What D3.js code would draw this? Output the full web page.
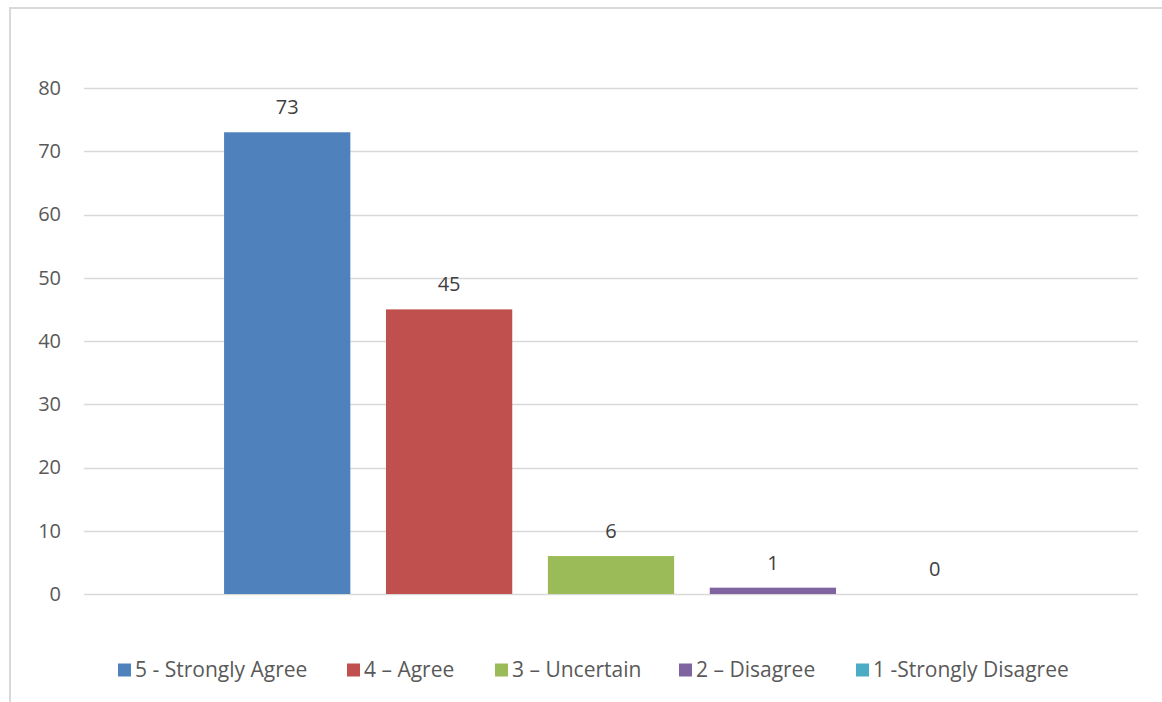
<!DOCTYPE html>
<html>
<head>
<meta charset="utf-8">
<script src="https://cdn.jsdelivr.net/npm/d3@7"></script>
<style>
  html, body { margin: 0; padding: 0; background: #fff; }
  svg { display: block; font-family: "Open Sans", "DejaVu Sans", sans-serif; }
</style>
</head>
<body>
<svg id="chart" width="1162" height="702"></svg>
<script>
const categories = ["Responses"];
const seriesNames = ["5 - Strongly Agree", "4 \u2013 Agree", "3 \u2013 Uncertain", "2 \u2013 Disagree", "1 -Strongly Disagree"];
const seriesValues = [73, 45, 6, 1, 0];
const seriesColors = ["#4f81bd", "#c0504d", "#9bbb59", "#8064a2", "#4bacc6"];
const yTicks = [0, 10, 20, 30, 40, 50, 60, 70, 80];

const svg = d3.select("#chart");
const W = 1162, H = 702;

// chart border (extends past right and bottom edges like the source)
svg.append("rect")
  .attr("x", 10).attr("y", 8)
  .attr("width", W + 10).attr("height", H + 10)
  .attr("fill", "#fff").attr("stroke", "#d9d9d9").attr("stroke-width", 2);

const plot = { left: 84, right: 1138, top: 88, bottom: 594 };

const y = d3.scaleLinear().domain([0, 80]).range([plot.bottom, plot.top]);
const x0 = d3.scaleBand().domain(categories).range([plot.left, plot.right]).paddingInner(0).paddingOuter(0.181);
const x1 = d3.scaleBand().domain(seriesNames).range([0, x0.bandwidth()]).paddingInner(0.22).paddingOuter(0);

// gridlines
svg.append("g")
  .selectAll("line").data(yTicks).join("line")
  .attr("x1", plot.left).attr("x2", plot.right)
  .attr("y1", d => Math.round(y(d)) + 0.5).attr("y2", d => Math.round(y(d)) + 0.5)
  .attr("stroke", "#d9d9d9").attr("stroke-width", 1.3);

// y axis labels
const yAxis = d3.axisLeft(y).tickValues(yTicks).tickSize(0).tickPadding(0);
const gy = svg.append("g").attr("transform", `translate(${plot.left - 23},0)`).call(yAxis);
gy.select(".domain").remove();
gy.selectAll("text").attr("font-size", 20).attr("fill", "#595959")
  .attr("font-family", "'Open Sans', 'DejaVu Sans', sans-serif");

// bars
const data = seriesNames.map((s, i) => ({ cat: categories[0], name: s, value: seriesValues[i], color: seriesColors[i] }));
const g = svg.append("g");
g.selectAll("rect").data(data).join("rect")
  .attr("x", d => x0(d.cat) + x1(d.name))
  .attr("y", d => y(d.value))
  .attr("width", x1.bandwidth())
  .attr("height", d => y(0) - y(d.value))
  .attr("fill", d => d.color);

// data labels
g.selectAll("text").data(data).join("text")
  .attr("x", d => x0(d.cat) + x1(d.name) + x1.bandwidth() / 2)
  .attr("y", d => y(d.value) - 18)
  .attr("text-anchor", "middle")
  .attr("font-size", 20)
  .attr("fill", "#404040")
  .text(d => d.value);

// legend
const legend = svg.append("g").attr("font-size", 21).attr("fill", "#595959");
const legendX = [118, 347, 495, 679, 856];
const legendY = 670;
seriesNames.forEach((s, i) => {
  const lg = legend.append("g").attr("transform", `translate(${legendX[i]},${legendY})`);
  lg.append("rect").attr("x", 0).attr("y", -6.5).attr("width", 13).attr("height", 13).attr("fill", seriesColors[i]);
  lg.append("text").attr("x", 17).attr("y", 0).attr("dy", "0.35em").attr("fill", "#595959").text(s);
});
</script>
</body>
</html>
